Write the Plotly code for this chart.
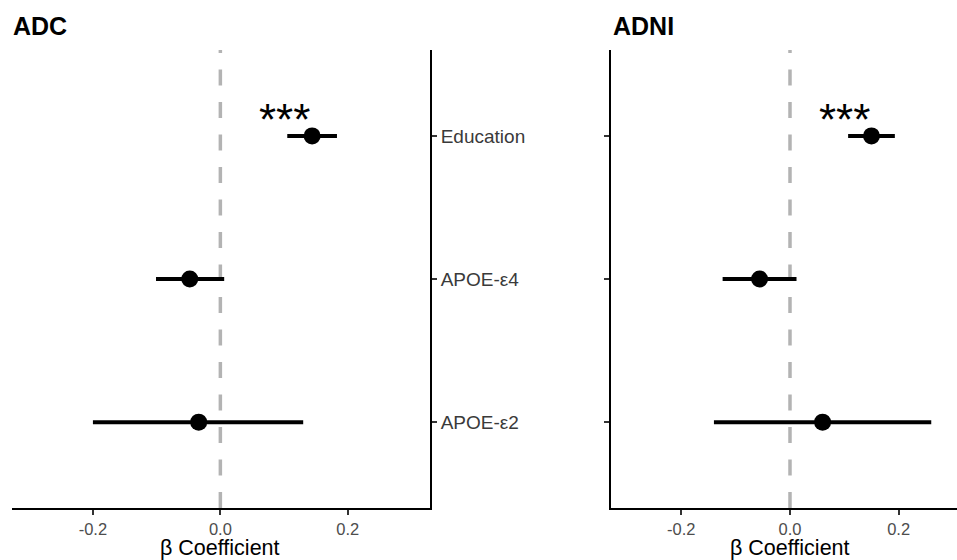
import plotly.graph_objects as go

# ---- data ----
predictors = ["Education", "APOE-ε4", "APOE-ε2"]
panel_titles = ["ADC", "ADNI"]
adc_beta = [0.144, -0.048, -0.034]
adc_low = [0.105, -0.101, -0.200]
adc_high = [0.183, 0.006, 0.130]
adni_beta = [0.150, -0.056, 0.060]
adni_low = [0.107, -0.124, -0.140]
adni_high = [0.193, 0.012, 0.260]
sig_labels = ["***", "***"]
sig_x = [0.10, 0.10]
x_tick_vals = [-0.2, 0.0, 0.2]
x_tick_text = ["-0.2", "0.0", "0.2"]
x_axis_title = "β Coefficient"

FONT = "Liberation Sans, Arial, sans-serif"
W, H = 957, 560

ypos = [len(predictors) - i for i in range(len(predictors))]

fig = go.Figure()

panels = [
    (adc_beta, adc_low, adc_high, "x", "y"),
    (adni_beta, adni_low, adni_high, "x2", "y2"),
]
for beta, lo, hi, xa, ya in panels:
    fig.add_trace(go.Scatter(
        x=beta, y=ypos, mode="markers", xaxis=xa, yaxis=ya,
        marker=dict(color="black", size=17),
        error_x=dict(type="data", symmetric=False,
                     array=[h - b for h, b in zip(hi, beta)],
                     arrayminus=[b - l for b, l in zip(beta, lo)],
                     color="black", thickness=4, width=0),
        showlegend=False, hoverinfo="skip",
    ))

ydom = [(H - 508) / H, (H - 50) / H]
yrange = [0.4, len(predictors) + 0.6]

common_x = dict(tickvals=x_tick_vals, ticktext=x_tick_text, showgrid=False, zeroline=False,
                showline=True, linecolor="black", linewidth=1.8, ticks="outside", ticklen=5,
                tickwidth=1.5, tickcolor="#333333",
                tickfont=dict(family=FONT, size=16.5, color="#4d4d4d"))

fig.update_layout(
    width=W, height=H,
    margin=dict(l=0, r=0, t=0, b=0),
    paper_bgcolor="white", plot_bgcolor="white",
    xaxis=dict(domain=[12 / W, 430 / W], range=[-0.327, 0.329], anchor="y", **common_x),
    xaxis2=dict(domain=[610.7 / W, 1.0], range=[-0.330, 0.3074], anchor="y2", **common_x),
    yaxis=dict(domain=ydom, range=yrange, anchor="x", side="right",
               tickvals=ypos, ticktext=predictors, showgrid=False, zeroline=False,
               showline=True, linecolor="black", linewidth=1.8, ticks="outside", ticklen=5,
               tickwidth=1.5, tickcolor="#333333",
               tickfont=dict(family=FONT, size=19, color="#3a3a3a")),
    yaxis2=dict(domain=ydom, range=yrange, anchor="x2", side="left",
                tickvals=ypos, showticklabels=False, showgrid=False, zeroline=False,
                showline=True, linecolor="black", linewidth=1.8, ticks="outside", ticklen=5,
                tickwidth=1.5, tickcolor="#333333"),
)

# reference lines at zero
for xa, ya in [("x", "y"), ("x2", "y2")]:
    fig.add_shape(type="line", xref=xa, yref=f"{ya} domain", x0=0, x1=0, y0=0, y1=1,
                  line=dict(color="#b3b3b3", width=3.5, dash="16px,16.5px"), layer="below")

# significance stars
for lab, sx, xa, ya in zip(sig_labels, sig_x, ["x", "x2"], ["y", "y2"]):
    fig.add_annotation(x=sx, y=ypos[0], xref=xa, yref=ya, text=lab, showarrow=False,
                       xanchor="center", yanchor="bottom", yshift=-10,
                       font=dict(family=FONT, size=44, color="black"))

# panel titles
for t, xpx in zip(panel_titles, [11, 610.7]):
    fig.add_annotation(x=xpx / W, y=(H - 26) / H, xref="paper", yref="paper", text=f"<b>{t}</b>",
                       showarrow=False, xanchor="left", yanchor="middle",
                       font=dict(family=FONT, size=25, color="black"))

# x-axis titles, centred under each panel's zero-centred axis
for xa in ["x", "x2"]:
    fig.add_annotation(x=0.0, y=(H - 535) / H, xref=xa, yref="paper",
                       text=x_axis_title, showarrow=False, xanchor="center", yanchor="top",
                       borderpad=0,
                       font=dict(family=FONT, size=21.5, color="black"))

fig.write_html("out.html")
